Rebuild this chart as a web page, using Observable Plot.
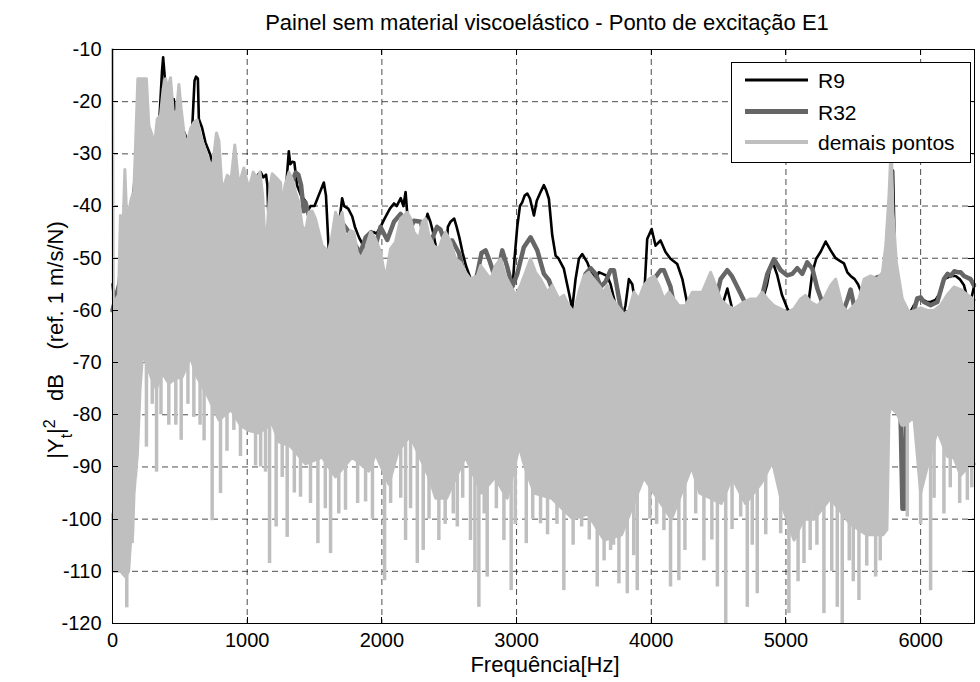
<!DOCTYPE html>
<html><head><meta charset="utf-8">
<script src="https://cdn.jsdelivr.net/npm/d3@7"></script>
<script src="https://cdn.jsdelivr.net/npm/@observablehq/plot@0.6"></script>
<style>body{margin:0;background:#fff;} svg{display:block}</style>
</head><body><div id="chart"></div><script>
const titleText = "Painel sem material viscoelástico - Ponto de excitação E1";
const xLabelText = "Frequência[Hz]";
const seriesNames = ["R9", "R32", "demais pontos"];
const seriesColors = ["#000000", "#666666", "#bfbfbf"];
const xTicks = [0, 1000, 2000, 3000, 4000, 5000, 6000];
const yTicks = [-120, -110, -100, -90, -80, -70, -60, -50, -40, -30, -20, -10];

// R9 : [Hz, dB]
const r9 = [[0,-55],[30,-62],[60,-52],[100,-50],[150,-40],[180,-32],[200,-26],[250,-24],[300,-30],[349,-23],[368,-14],[376,-11.5],[384,-14],[394,-17.5],[420,-21],[455,-19.5],[468,-23],[500,-24],[542,-26.5],[559,-28.4],[590,-26],[609,-16],[620,-15.2],[634,-15.6],[641,-23.3],[665,-25],[690,-27.8],[728,-30.3],[740,-33.5],[780,-34],[830,-38],[880,-36],[930,-37],[980,-38],[1030,-38],[1060,-41],[1080,-34],[1100,-33.5],[1120,-34.5],[1140,-34],[1150,-36],[1160,-44],[1180,-42],[1220,-40],[1260,-39.5],[1290,-36],[1309,-29.5],[1320,-32],[1335,-31.5],[1350,-31.6],[1370,-36],[1400,-38],[1430,-39],[1450,-41],[1470,-40],[1500,-40],[1530,-38],[1569,-35.5],[1585,-38],[1606,-48.8],[1640,-46],[1680,-44],[1705,-38.5],[1720,-40],[1750,-40.5],[1780,-42],[1800,-44],[1830,-46],[1860,-47.5],[1885,-48.8],[1910,-45.5],[1940,-45],[1960,-45.3],[1990,-44],[2020,-42.4],[2060,-40.5],[2090,-39.5],[2110,-40],[2140,-38.5],[2160,-40],[2176,-37.3],[2190,-42],[2230,-46],[2280,-46],[2320,-43.5],[2339,-41.5],[2360,-43],[2380,-45],[2400,-47.6],[2420,-50],[2440,-55],[2455,-59],[2470,-52],[2490,-44],[2510,-43],[2537,-42.4],[2555,-44],[2575,-46],[2600,-49],[2625,-51.5],[2660,-54],[2700,-55],[2740,-53],[2780,-55],[2820,-54.6],[2870,-56],[2920,-57],[2968,-56.5],[2985,-50],[3005,-44],[3025,-40],[3042,-39.3],[3060,-38],[3080,-37.6],[3100,-38.6],[3129,-41.8],[3150,-39],[3175,-37.5],[3203,-36],[3220,-37],[3240,-38.6],[3265,-45.6],[3290,-49.5],[3310,-50],[3351,-52],[3388,-56.5],[3413,-59.7],[3438,-54],[3463,-50.1],[3488,-49.2],[3525,-50.8],[3550,-52.5],[3587,-54],[3611,-52.7],[3640,-53],[3673,-53.4],[3698,-55],[3735,-59],[3772,-62.9],[3809,-59],[3834,-54],[3859,-55],[3884,-59.1],[3921,-62.3],[3946,-58],[3970,-46.3],[4003,-44.4],[4032,-47.6],[4069,-46.6],[4106,-48.8],[4143,-50.1],[4193,-51.1],[4231,-54],[4255,-57.1],[4280,-60.3],[4330,-63],[4400,-64],[4480,-62],[4540,-58],[4565,-55.8],[4600,-59.6],[4650,-63],[4720,-64],[4790,-62],[4812,-59.4],[4860,-55],[4886,-51.4],[4911,-51.4],[4936,-53.3],[4970,-57],[5010,-59.6],[5059,-61.6],[5100,-63],[5140,-62],[5170,-58],[5196,-52.7],[5225,-50.1],[5257,-48.8],[5295,-46.8],[5332,-48.5],[5369,-50],[5400,-50.5],[5431,-51],[5456,-52.7],[5480,-53.4],[5510,-54],[5535,-55],[5560,-56.5],[5580,-57.8],[5620,-60],[5680,-62],[5750,-58],[5780,-45],[5795,-33.2],[5805,-45],[5815,-56],[5830,-54],[5850,-57],[5876,-59],[5910,-61],[5951,-59],[5980,-58],[6000,-57.7],[6050,-58.4],[6074,-58.4],[6110,-58],[6149,-56.5],[6173,-54],[6200,-53.7],[6223,-53.4],[6260,-53.4],[6290,-54],[6322,-55.2],[6347,-57.7],[6371,-58.4],[6400,-55]];

// R32 : [Hz, dB]
const r32 = [[0,-60],[50,-55],[100,-45],[150,-40],[200,-28],[250,-26],[300,-30],[350,-26],[400,-24],[450,-25],[500,-28],[550,-30],[600,-27],[650,-28],[700,-32],[750,-35],[800,-38],[850,-37],[900,-38],[950,-39],[1000,-40],[1050,-42],[1100,-48],[1150,-50],[1180,-48],[1200,-40],[1250,-42],[1300,-36],[1340,-35],[1360,-33.6],[1380,-34],[1400,-36],[1420,-41],[1433,-39.3],[1458,-41.8],[1500,-43],[1550,-48],[1600,-50],[1650,-45],[1700,-43],[1755,-45],[1780,-46],[1805,-47.6],[1840,-49],[1880,-46],[1920,-45],[1953,-47.6],[1990,-44],[2040,-46.5],[2090,-43],[2139,-41.5],[2175,-44],[2200,-45],[2238,-42.8],[2290,-43],[2320,-46.6],[2360,-47],[2410,-44],[2435,-44.5],[2470,-47],[2522,-46.6],[2572,-49],[2610,-53],[2650,-56],[2683,-55.5],[2708,-53],[2740,-49],[2770,-48.5],[2800,-50.5],[2831,-53],[2869,-51.7],[2894,-48.5],[2931,-51.7],[2968,-55.5],[3005,-53],[3054,-47.9],[3104,-46],[3154,-48.5],[3203,-53],[3240,-54.2],[3277,-56.8],[3327,-59.4],[3376,-59.4],[3426,-60.7],[3475,-58],[3512,-53],[3550,-51.9],[3587,-53],[3624,-55.5],[3661,-54.5],[3698,-52.3],[3723,-52.3],[3772,-59.4],[3822,-62.6],[3871,-62.3],[3921,-61.5],[3970,-56.8],[4020,-54],[4069,-52.3],[4094,-52.3],[4143,-55.5],[4193,-62.6],[4250,-64],[4330,-63],[4420,-62],[4480,-58],[4515,-54],[4564,-52.3],[4600,-53.5],[4639,-55.5],[4713,-59.4],[4812,-58.4],[4862,-53],[4911,-50.2],[4961,-52.3],[5010,-53.3],[5047,-53],[5084,-51.9],[5121,-53],[5158,-50.8],[5196,-52],[5233,-55.8],[5282,-59.4],[5330,-62],[5400,-62],[5456,-58],[5480,-56],[5505,-59],[5530,-61.6],[5560,-58],[5600,-55.5],[5640,-54],[5700,-53.5],[5740,-56],[5780,-45],[5810,-58],[5840,-66],[5855,-85],[5865,-98],[5878,-98],[5890,-82],[5905,-70],[5930,-62],[5975,-57.7],[6000,-57.5],[6025,-58.4],[6074,-59],[6124,-58.4],[6173,-54],[6200,-53],[6223,-53.4],[6250,-52.5],[6280,-52.7],[6297,-52.7],[6322,-53.4],[6371,-54],[6396,-55.2]];

// "demais pontos": upper edge, lower edge and dips of the dense bundle [Hz, dB]
const grayUpper = [[0,-10],[6,-58],[22,-58],[45,-57],[59,-41.8],[79,-43],[92,-33],[104,-41.2],[121,-41],[139,-38.6],[158,-37.3],[171,-28.4],[188,-15.6],[252,-15.6],[270,-24.6],[295,-26.5],[312,-28.4],[332,-23.3],[356,-22.6],[376,-17.5],[394,-15.6],[411,-17.5],[431,-15.4],[451,-22],[475,-22],[493,-16.7],[510,-21.4],[530,-25.8],[550,-28.4],[579,-25.2],[604,-24],[629,-23.5],[653,-26.5],[678,-28.4],[703,-30.3],[740,-32.9],[772,-26],[790,-27.5],[815,-37.3],[852,-34.1],[881,-34.8],[908,-28.3],[938,-36.1],[975,-32.7],[1012,-36.7],[1045,-33.5],[1074,-34.8],[1095,-33.5],[1115,-38],[1131,-46.3],[1150,-44],[1170,-36],[1186,-33.8],[1223,-34.8],[1248,-35.5],[1260,-40.5],[1280,-36.1],[1310,-33.5],[1334,-34.8],[1359,-37.3],[1384,-39.3],[1408,-43.7],[1433,-45],[1458,-41.2],[1483,-41],[1507,-42.4],[1532,-45],[1557,-47.6],[1582,-48.2],[1601,-48.8],[1626,-46.3],[1656,-41.2],[1681,-42.8],[1705,-41.2],[1730,-46.3],[1767,-44.7],[1792,-45],[1817,-48.8],[1842,-50.1],[1879,-48.2],[1916,-45],[1953,-46.3],[1990,-48.8],[2027,-54],[2064,-48.2],[2101,-46.9],[2139,-42.4],[2188,-41.2],[2213,-42.4],[2238,-45],[2275,-46.3],[2300,-43.1],[2324,-42.4],[2349,-45.6],[2386,-47.6],[2423,-48.2],[2448,-46.3],[2473,-45],[2510,-46.9],[2547,-50.1],[2584,-50.8],[2621,-52.7],[2658,-54],[2708,-53.4],[2733,-51.4],[2770,-52.7],[2807,-54],[2844,-51.4],[2881,-50.1],[2918,-53.4],[2955,-55.2],[2993,-57.1],[3030,-55.2],[3067,-52.7],[3104,-50.1],[3141,-52.7],[3178,-54],[3228,-56.5],[3265,-55.2],[3314,-57.8],[3351,-57.1],[3388,-59.1],[3426,-60.4],[3463,-56.5],[3500,-53.4],[3537,-52.7],[3574,-54],[3611,-55.2],[3648,-56.5],[3673,-55.2],[3711,-57.8],[3748,-59.1],[3797,-60.8],[3834,-60],[3871,-56.5],[3908,-57.8],[3946,-55.2],[3983,-54],[4020,-53.4],[4057,-55.2],[4094,-57.8],[4131,-56.5],[4168,-57.8],[4205,-59.1],[4255,-59.1],[4305,-56.5],[4340,-56.5],[4379,-56.5],[4441,-52.7],[4478,-55.2],[4515,-57.8],[4564,-59.1],[4614,-59.7],[4688,-58.4],[4738,-57.8],[4787,-57.8],[4824,-56.5],[4862,-57.8],[4911,-59.1],[4961,-59.7],[5010,-60.4],[5059,-59.7],[5109,-57.8],[5146,-57.1],[5183,-58.4],[5233,-59.1],[5282,-57.8],[5332,-55.2],[5369,-54],[5381,-55.2],[5418,-59.1],[5456,-60.3],[5505,-59.1],[5542,-57.8],[5580,-54],[5629,-53.4],[5678,-54],[5716,-52.7],[5741,-47.6],[5765,-38],[5782,-28],[5795,-41.2],[5820,-50.8],[5864,-57.8],[5913,-60.3],[5963,-60],[6000,-59.5],[6050,-60],[6099,-60],[6149,-59],[6198,-57],[6248,-55.5],[6297,-56],[6347,-57],[6400,-58]];
const grayLower = [[0,-99],[5,-110],[60,-110],[95,-111],[120,-110],[135,-104],[150,-103],[160,-95],[185,-87.5],[205,-75],[225,-68],[250,-70],[290,-73],[325,-75],[370,-72],[418,-74],[470,-73],[517,-72.8],[579,-69],[629,-72.8],[700,-76],[790,-81],[880,-79],[950,-82],[1010,-83],[1087,-83.5],[1186,-81.7],[1236,-85.2],[1320,-86],[1433,-89.4],[1557,-88.1],[1656,-91.9],[1780,-88.1],[1903,-90.8],[1953,-87.5],[2052,-93.3],[2120,-87],[2210,-84],[2350,-92],[2400,-96],[2480,-96],[2620,-88],[2740,-95],[2840,-92],[2930,-96],[3020,-86],[3050,-89],[3130,-95],[3260,-96],[3420,-100],[3530,-99],[3650,-104],[3780,-103],[3945,-92],[4020,-95],[4150,-100],[4300,-90],[4360,-95],[4440,-96],[4520,-97],[4600,-92],[4700,-97],[4820,-93],[4900,-89],[4980,-98],[5060,-104],[5130,-100],[5210,-100],[5330,-96],[5480,-101],[5600,-103],[5720,-103],[5750,-102],[5765,-80],[5777,-78.5],[5827,-79.8],[5860,-82],[5880,-82],[5950,-80.5],[6000,-95],[6050,-90],[6124,-83],[6200,-88],[6248,-88.3],[6297,-91.6],[6350,-90],[6400,-89.4]];
const graySpikes = [[106,-117],[146,-104.7],[170,-92],[252,-86.2],[295,-78],[327,-91],[360,-80],[418,-82],[470,-82],[510,-84.9],[560,-78],[604,-80.5],[650,-82],[680,-85],[740,-100.3],[802,-95.1],[850,-87],[901,-83],[950,-88],[1062,-89.8],[1100,-90],[1136,-91],[1166,-108.5],[1215,-101.5],[1260,-92],[1297,-103.5],[1350,-95],[1396,-95.8],[1470,-97],[1525,-104.7],[1580,-98],[1619,-106.6],[1680,-99],[1730,-98.3],[1820,-97],[1879,-96.7],[1930,-100],[2020,-111.8],[2065,-97],[2140,-96],[2176,-104.1],[2213,-98],[2263,-108.5],[2307,-106],[2350,-100],[2423,-104.1],[2470,-101],[2530,-99],[2560,-101.5],[2600,-96],[2658,-104.1],[2691,-110.2],[2720,-116.9],[2760,-99],[2782,-111.1],[2850,-98],[2906,-104.1],[2960,-113.7],[2990,-101],[3072,-104.7],[3120,-100],[3178,-100.9],[3230,-103],[3300,-101],[3351,-113.7],[3420,-105],[3483,-101.5],[3540,-104],[3599,-113],[3650,-108],[3698,-106],[3720,-105],[3760,-112.4],[3822,-114.3],[3870,-107],[3896,-113.7],[3990,-100],[4040,-101],[4094,-102.2],[4143,-113],[4205,-111.8],[4250,-106],[4330,-99],[4391,-108],[4450,-104],[4491,-113],[4553,-120],[4600,-102],[4664,-99.6],[4713,-116.9],[4750,-105],[4787,-114.3],[4850,-103],[4961,-102.8],[5022,-118.1],[5090,-112],[5134,-108.5],[5180,-106],[5230,-105],[5282,-118.1],[5340,-110],[5381,-116.9],[5418,-120],[5470,-108],[5500,-112],[5542,-115.6],[5600,-109],[5666,-111.1],[5700,-108],[5901,-99.6],[6000,-101],[6074,-113.7],[6100,-96],[6173,-99],[6220,-94],[6290,-97],[6347,-96.4],[6380,-94]];

function interp(arr, f) {
  const i = d3.bisector(d => d[0]).right(arr, f);
  if (i <= 0) return arr[0][1];
  if (i >= arr.length) return arr[arr.length - 1][1];
  const [f0, v0] = arr[i - 1], [f1, v1] = arr[i];
  return f1 === f0 ? v1 : v0 + (v1 - v0) * (f - f0) / (f1 - f0);
}
const fs = Array.from(new Set([...grayUpper.map(d => d[0]), ...grayLower.map(d => d[0])])).sort((a, b) => a - b);
const band = fs.map(f => ({f, lo: interp(grayLower, f), hi: interp(grayUpper, f)}));
const spikes = graySpikes.map(([f, b]) => ({f, bottom: b, top: interp(grayLower, f) + 3}));

const xGrid = xTicks.slice(1);
const yGrid = yTicks.slice(1, -1);
const gridStyle = {stroke: "#000", strokeOpacity: 0.7, strokeWidth: 1, strokeDasharray: "6,4"};

const chart = Plot.plot({
  width: 980, height: 682,
  marginLeft: 112, marginRight: 6, marginTop: 49, marginBottom: 59,
  style: {fontFamily: "'Liberation Sans', Arial, sans-serif", fontSize: "20px", color: "#000", background: "#fff"},
  x: {domain: [0, 6400], ticks: xTicks, tickSize: 0, tickPadding: 9, tickFormat: d => String(d), label: null},
  y: {domain: [-120, -10], ticks: yTicks, tickSize: 0, tickPadding: 11, tickFormat: d => String(d), label: null},
  marks: [
    Plot.ruleX(xGrid, gridStyle),
    Plot.ruleY(yGrid, gridStyle),
    Plot.line(r9, {x: d => d[0], y: d => d[1], stroke: seriesColors[0], strokeWidth: 2.6}),
    Plot.line(r32, {x: d => d[0], y: d => d[1], stroke: seriesColors[1], strokeWidth: 4.5}),
    Plot.areaY(band, {x: "f", y1: "lo", y2: "hi", fill: seriesColors[2]}),
    Plot.line(grayUpper, {x: d => d[0], y: d => d[1], stroke: seriesColors[2], strokeWidth: 3}),
    Plot.line(grayLower, {x: d => d[0], y: d => d[1], stroke: seriesColors[2], strokeWidth: 3}),
    Plot.ruleX(spikes, {x: "f", y1: "bottom", y2: "top", stroke: seriesColors[2], strokeWidth: 3.5}),
    Plot.frame({stroke: "#000", strokeWidth: 1})
  ]
});
document.getElementById("chart").appendChild(chart);

const svg = d3.select(chart);
const xs = chart.scale("x"), ys = chart.scale("y");
const pLeft = xs.apply(0), pRight = xs.apply(6400), pTop = ys.apply(-10), pBottom = ys.apply(-120);
const tk = svg.append("g").attr("stroke", "#000").attr("stroke-width", 1);
for (const t of xTicks) {
  const x = Math.round(xs.apply(t)) + 0.5;
  tk.append("line").attr("x1", x).attr("x2", x).attr("y1", pBottom).attr("y2", pBottom - 6);
  tk.append("line").attr("x1", x).attr("x2", x).attr("y1", pTop).attr("y2", pTop + 6);
}
for (const t of yTicks) {
  const y = Math.round(ys.apply(t)) + 0.5;
  tk.append("line").attr("x1", pLeft).attr("x2", pLeft + 6).attr("y1", y).attr("y2", y);
  tk.append("line").attr("x1", pRight).attr("x2", pRight - 6).attr("y1", y).attr("y2", y);
}
const font = "'Liberation Sans', Arial, sans-serif";
svg.append("text").attr("x", (pLeft + pRight) / 2 + 4).attr("y", 30).attr("text-anchor", "middle")
  .attr("font-family", font).attr("font-size", 22).attr("fill", "#000").text(titleText);
svg.append("text").attr("x", (pLeft + pRight) / 2 + 2).attr("y", 672).attr("text-anchor", "middle")
  .attr("font-family", font).attr("font-size", 22).attr("fill", "#000").text(xLabelText);
const yl = svg.append("text").attr("transform", "translate(63,340) rotate(-90)").attr("text-anchor", "middle")
  .attr("font-family", font).attr("font-size", 22).attr("fill", "#000").style("white-space", "pre");
yl.append("tspan").text("|Y");
yl.append("tspan").attr("baseline-shift", "sub").attr("font-size", 16).text("t");
yl.append("tspan").text("|");
yl.append("tspan").attr("baseline-shift", "super").attr("font-size", 16).text("2");
yl.append("tspan").text("   dB    (ref. 1 m/s/N)");

// legend
const lg = svg.append("g");
lg.append("rect").attr("x", 731.5).attr("y", 62.5).attr("width", 239).attr("height", 100)
  .attr("fill", "#fff").attr("stroke", "#000").attr("stroke-width", 1);
const rowsY = [80, 111.5, 142];
const widths = [3, 5, 4];
seriesNames.forEach((name, i) => {
  lg.append("line").attr("x1", 745).attr("x2", 808).attr("y1", rowsY[i]).attr("y2", rowsY[i])
    .attr("stroke", seriesColors[i]).attr("stroke-width", widths[i]);
  lg.append("text").attr("x", 818).attr("y", rowsY[i] + 8).attr("text-anchor", "start")
    .attr("font-family", font).attr("font-size", 21).attr("fill", "#000").text(name);
});
</script></body></html>
